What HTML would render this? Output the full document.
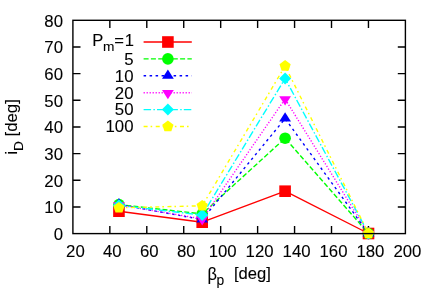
<!DOCTYPE html>
<html><head><meta charset="utf-8"><title>plot</title>
<style>
html,body{margin:0;padding:0;background:#fff;}
body{width:436px;height:305px;overflow:hidden;font-family:"Liberation Sans",sans-serif;}
svg{display:block;will-change:transform;opacity:0.999;}
text{font-family:"Liberation Sans",sans-serif;fill:#000;stroke:#000;stroke-width:0.1px;}
</style></head><body>
<svg width="436" height="305" viewBox="0 0 436 305">

<path d="M109.84 233.6 V226.00 M109.84 20.3 V27.90 M146.79 233.6 V226.00 M146.79 20.3 V27.90 M183.73 233.6 V226.00 M183.73 20.3 V27.90 M220.68 233.6 V226.00 M220.68 20.3 V27.90 M257.62 233.6 V226.00 M257.62 20.3 V27.90 M294.57 233.6 V226.00 M294.57 20.3 V27.90 M331.51 233.6 V226.00 M331.51 20.3 V27.90 M368.46 233.6 V226.00 M368.46 20.3 V27.90 M72.9 206.94 H80.50 M405.4 206.94 H397.80 M72.9 180.27 H80.50 M405.4 180.27 H397.80 M72.9 153.61 H80.50 M405.4 153.61 H397.80 M72.9 126.95 H80.50 M405.4 126.95 H397.80 M72.9 100.29 H80.50 M405.4 100.29 H397.80 M72.9 73.63 H80.50 M405.4 73.63 H397.80 M72.9 46.96 H80.50 M405.4 46.96 H397.80" fill="none" stroke="#000" stroke-width="1.4"/>
<path d="M143.6 42.0 L191.8 42.0" fill="none" stroke="#ff0000" stroke-width="1.4"/>
<path d="M118.95 211.20 L202.20 222.20 L285.10 191.20 L368.50 233.50" fill="none" stroke="#ff0000" stroke-width="1.4" stroke-linejoin="round"/>
<rect x="162.10" y="36.20" width="11.60" height="11.60" fill="#ff0000"/>
<rect x="113.15" y="205.40" width="11.60" height="11.60" fill="#ff0000"/>
<rect x="196.40" y="216.40" width="11.60" height="11.60" fill="#ff0000"/>
<rect x="279.30" y="185.40" width="11.60" height="11.60" fill="#ff0000"/>
<rect x="362.70" y="227.70" width="11.60" height="11.60" fill="#ff0000"/>
<path d="M143.6 58.9 L191.8 58.9" fill="none" stroke="#00ff00" stroke-width="1.4" stroke-dasharray="5 2.3"/>
<path d="M118.95 204.60 L202.20 213.90 L285.10 138.20 L368.50 233.50" fill="none" stroke="#00ff00" stroke-width="1.4" stroke-dasharray="5 2.3" stroke-linejoin="round"/>
<circle cx="167.90" cy="58.90" r="5.8" fill="#00ff00"/>
<circle cx="118.95" cy="204.60" r="5.8" fill="#00ff00"/>
<circle cx="202.20" cy="213.90" r="5.8" fill="#00ff00"/>
<circle cx="285.10" cy="138.20" r="5.8" fill="#00ff00"/>
<circle cx="368.50" cy="233.50" r="5.8" fill="#00ff00"/>
<path d="M143.6 75.8 L191.8 75.8" fill="none" stroke="#0000ff" stroke-width="1.4" stroke-dasharray="2.5 3.5"/>
<path d="M118.95 204.40 L202.20 219.60 L285.10 118.60 L368.50 233.50" fill="none" stroke="#0000ff" stroke-width="1.4" stroke-dasharray="2.5 3.5" stroke-linejoin="round"/>
<path d="M167.90 69.50 L173.80 78.70 L162.00 78.70 Z" fill="#0000ff"/>
<path d="M118.95 198.10 L124.85 207.30 L113.05 207.30 Z" fill="#0000ff"/>
<path d="M202.20 213.30 L208.10 222.50 L196.30 222.50 Z" fill="#0000ff"/>
<path d="M285.10 112.30 L291.00 121.50 L279.20 121.50 Z" fill="#0000ff"/>
<path d="M368.50 227.20 L374.40 236.40 L362.60 236.40 Z" fill="#0000ff"/>
<path d="M143.6 92.7 L191.8 92.7" fill="none" stroke="#ff00ff" stroke-width="1.4" stroke-dasharray="1.2 1.8"/>
<path d="M118.95 204.90 L202.20 218.90 L285.10 99.00 L368.50 233.50" fill="none" stroke="#ff00ff" stroke-width="1.4" stroke-dasharray="1.2 1.8" stroke-linejoin="round"/>
<path d="M167.90 99.20 L173.80 90.00 L162.00 90.00 Z" fill="#ff00ff"/>
<path d="M118.95 211.40 L124.85 202.20 L113.05 202.20 Z" fill="#ff00ff"/>
<path d="M202.20 225.40 L208.10 216.20 L196.30 216.20 Z" fill="#ff00ff"/>
<path d="M285.10 105.50 L291.00 96.30 L279.20 96.30 Z" fill="#ff00ff"/>
<path d="M368.50 240.00 L374.40 230.80 L362.60 230.80 Z" fill="#ff00ff"/>
<path d="M143.6 109.6 L191.8 109.6" fill="none" stroke="#00ffff" stroke-width="1.4" stroke-dasharray="7.5 2.3 1.5 2.1"/>
<path d="M118.95 205.30 L202.20 215.10 L285.10 78.50 L368.50 233.50" fill="none" stroke="#00ffff" stroke-width="1.4" stroke-dasharray="7.5 2.3 1.5 2.1" stroke-linejoin="round"/>
<path d="M167.90 103.60 L173.90 109.60 L167.90 115.60 L161.90 109.60 Z" fill="#00ffff"/>
<path d="M118.95 199.30 L124.95 205.30 L118.95 211.30 L112.95 205.30 Z" fill="#00ffff"/>
<path d="M202.20 209.10 L208.20 215.10 L202.20 221.10 L196.20 215.10 Z" fill="#00ffff"/>
<path d="M285.10 72.50 L291.10 78.50 L285.10 84.50 L279.10 78.50 Z" fill="#00ffff"/>
<path d="M368.50 227.50 L374.50 233.50 L368.50 239.50 L362.50 233.50 Z" fill="#00ffff"/>
<path d="M143.6 126.5 L191.8 126.5" fill="none" stroke="#ffff00" stroke-width="1.4" stroke-dasharray="4 3.0 1.6 3.53"/>
<path d="M118.95 207.80 L202.20 205.80 L285.10 66.00 L368.50 233.50" fill="none" stroke="#ffff00" stroke-width="1.4" stroke-dasharray="4 3.0 1.6 3.53" stroke-linejoin="round"/>
<path d="M167.90 120.60 L173.51 124.68 L171.37 131.27 L164.43 131.27 L162.29 124.68 Z" fill="#ffff00"/>
<path d="M118.95 201.90 L124.56 205.98 L122.42 212.57 L115.48 212.57 L113.34 205.98 Z" fill="#ffff00"/>
<path d="M202.20 199.90 L207.81 203.98 L205.67 210.57 L198.73 210.57 L196.59 203.98 Z" fill="#ffff00"/>
<path d="M285.10 60.10 L290.71 64.18 L288.57 70.77 L281.63 70.77 L279.49 64.18 Z" fill="#ffff00"/>
<path d="M368.50 227.60 L374.11 231.68 L371.97 238.27 L365.03 238.27 L362.89 231.68 Z" fill="#ffff00"/>
<text y="45.6" font-size="16.6"><tspan x="92.3">P</tspan><tspan x="103.0" font-size="13.7" dy="5.2">m</tspan><tspan x="114.3" dy="-5.2">=</tspan><tspan x="124.8">1</tspan></text>
<text x="133.5" y="64.7" font-size="16.8" text-anchor="end">5</text>
<text x="133.5" y="81.6" font-size="16.8" text-anchor="end">10</text>
<text x="133.5" y="98.5" font-size="16.8" text-anchor="end">20</text>
<text x="133.5" y="115.4" font-size="16.8" text-anchor="end">50</text>
<text x="133.5" y="132.3" font-size="16.8" text-anchor="end">100</text>
<rect x="72.9" y="20.3" width="332.50" height="213.30" fill="none" stroke="#000" stroke-width="1.4"/>
<text x="75.40" y="256.6" font-size="16.8" text-anchor="middle">20</text>
<text x="112.34" y="256.6" font-size="16.8" text-anchor="middle">40</text>
<text x="149.29" y="256.6" font-size="16.8" text-anchor="middle">60</text>
<text x="186.23" y="256.6" font-size="16.8" text-anchor="middle">80</text>
<text x="222.68" y="256.6" font-size="16.8" text-anchor="middle">100</text>
<text x="259.62" y="256.6" font-size="16.8" text-anchor="middle">120</text>
<text x="296.57" y="256.6" font-size="16.8" text-anchor="middle">140</text>
<text x="333.51" y="256.6" font-size="16.8" text-anchor="middle">160</text>
<text x="370.46" y="256.6" font-size="16.8" text-anchor="middle">180</text>
<text x="407.40" y="256.6" font-size="16.8" text-anchor="middle">200</text>
<text x="63.0" y="240.00" font-size="16.8" text-anchor="end">0</text>
<text x="63.0" y="213.34" font-size="16.8" text-anchor="end">10</text>
<text x="63.0" y="186.67" font-size="16.8" text-anchor="end">20</text>
<text x="63.0" y="160.01" font-size="16.8" text-anchor="end">30</text>
<text x="63.0" y="133.35" font-size="16.8" text-anchor="end">40</text>
<text x="63.0" y="106.69" font-size="16.8" text-anchor="end">50</text>
<text x="63.0" y="80.03" font-size="16.8" text-anchor="end">60</text>
<text x="63.0" y="53.36" font-size="16.8" text-anchor="end">70</text>
<text x="63.0" y="26.70" font-size="16.8" text-anchor="end">80</text>
<text transform="translate(207.4 280.35) scale(1 1.15)" font-size="16.4">β</text>
<text x="216.6" y="284.7" font-size="13.8">p</text>
<text x="233.9" y="279.4" font-size="16.6">[deg]</text>
<text transform="translate(16.6 154.6) rotate(-90)" font-size="16.4">i<tspan font-size="13.6" dy="6.0">D</tspan><tspan dy="-6.0" font-size="16.8"> [deg]</tspan></text>
</svg></body></html>
